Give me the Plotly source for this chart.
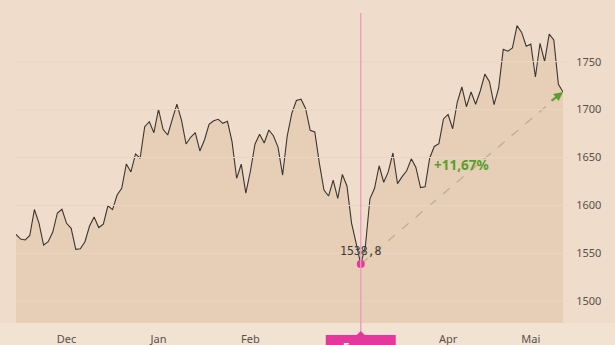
import plotly.graph_objects as go

# ---- data ----
values = [
    1569.8, 1564.9, 1563.9, 1568.6, 1595.7, 1581.6, 1558.7, 1562.1, 1572.2, 1592.1,
    1596.0, 1581.3, 1576.1, 1554.2, 1554.8, 1562.1, 1578.5, 1587.9, 1576.9, 1580.4,
    1599.6, 1595.6, 1610.9, 1617.9, 1643.2, 1634.9, 1653.7, 1649.2, 1682.2, 1687.4,
    1675.9, 1700.3, 1679.4, 1673.5, 1689.7, 1705.8, 1689.1, 1664.1, 1671.1, 1675.9,
    1656.8, 1668.3, 1684.7, 1688.4, 1689.9, 1685.7, 1687.8, 1666.5, 1628.3, 1643.0,
    1612.9, 1635.9, 1664.1, 1674.3, 1665.1, 1678.7, 1672.7, 1660.8, 1631.7, 1672.4,
    1696.1, 1709.5, 1710.8, 1701.2, 1678.4, 1676.6, 1643.9, 1616.1, 1609.8, 1626.5,
    1607.4, 1632.3, 1620.3, 1581.6, 1560.4, 1538.8, 1556.9, 1606.9, 1617.9, 1641.4,
    1624.2, 1635.2, 1654.7, 1622.7, 1630.0, 1636.2, 1648.6, 1639.6, 1618.7, 1619.5,
    1649.5, 1661.5, 1664.4, 1690.2, 1694.9, 1680.0, 1707.9, 1723.6, 1703.0, 1718.4,
    1705.6, 1719.4, 1737.0, 1729.1, 1705.1, 1722.5, 1762.9, 1760.9, 1764.3, 1787.6,
    1780.5, 1766.1, 1768.3, 1734.0, 1769.2, 1750.4, 1778.7, 1772.7, 1726.5, 1718.4,
]
month_labels = ["Dec", "Jan", "Feb", "Apr", "Mai"]
month_positions = [11, 31, 51, 94, 112]
y_ticks = [1500, 1550, 1600, 1650, 1700, 1750]
marker_date_label = "5 mar"

x = list(range(len(values)))
i_min = values.index(min(values))
v_min = values[i_min]
i_last = len(values) - 1
v_last = values[i_last]
pct = (v_last / v_min - 1) * 100

def de(num, d):
    return f"{num:.{d}f}".replace(".", ",")

BG = "#EFDCCA"
FILL = "#E7CEB7"
STRIP = "#F2E2D2"
GRID = "#EAD5C2"
TXT = "#57514c"
PINK = "#E5389C"
GREEN = "#5A9E2C"

fig = go.Figure()

fig.add_trace(go.Scatter(
    x=x, y=values, mode="lines",
    line=dict(color="#3a3632", width=1.1),
    fill="tozeroy", fillcolor=FILL, hoverinfo="skip",
))
fig.add_trace(go.Scatter(
    x=[i_min, i_last], y=[v_min, v_last], mode="lines",
    line=dict(color="#B8B38C", width=1.3, dash="dash"), hoverinfo="skip",
))
fig.add_trace(go.Scatter(
    x=[i_min], y=[v_min], mode="markers",
    marker=dict(color=PINK, size=8), hoverinfo="skip",
))

shapes = []
# lighter strip below the plot
shapes.append(dict(type="rect", xref="paper", yref="paper", x0=-0.05, x1=1.2,
                   y0=-0.2, y1=0, fillcolor=STRIP, line=dict(width=0), layer="below"))
# gridlines drawn over the fill
for t in y_ticks:
    shapes.append(dict(type="line", xref="paper", yref="y", x0=0, x1=1.008, y0=t, y1=t,
                       line=dict(color=GRID, width=1), layer="above"))
# vertical marker line
shapes.append(dict(type="line", xref="x", yref="paper", x0=i_min, x1=i_min, y0=-0.04, y1=1,
                   line=dict(color="#EC9CBD", width=1.3), layer="above"))
# date box
shapes.append(dict(type="rect", xref="x", xsizemode="pixel", xanchor=i_min, x0=-35, x1=35,
                   yref="paper", ysizemode="pixel", yanchor=0, y0=-45, y1=-12,
                   fillcolor=PINK, line=dict(width=0), layer="above"))
shapes.append(dict(type="path", xref="x", xsizemode="pixel", xanchor=i_min,
                   yref="paper", ysizemode="pixel", yanchor=0,
                   path="M-4,-12 L0,-8 L4,-12 Z",
                   fillcolor=PINK, line=dict(width=0), layer="above"))

annotations = [
    dict(x=i_min, y=v_min, xref="x", yref="y", text=de(v_min, 1), showarrow=False,
         yshift=13, font=dict(family="DejaVu Sans Mono", size=11.5, color="#3d3935")),
    dict(x=(i_min + i_last) / 2, y=(v_min + v_last) / 2, xref="x", yref="y",
         text=f"+{de(pct, 2)}%", showarrow=False, yshift=13,
         font=dict(family="Noto Sans", size=13.5, color=GREEN, weight="bold")),
    dict(x=i_last, y=v_last, xref="x", yref="y", text="", showarrow=True,
         arrowhead=2, arrowsize=0.9, arrowwidth=2, arrowcolor=GREEN, ax=-13, ay=10,
         standoff=0),
    dict(x=i_min, y=0, xref="x", yref="paper", yanchor="top", text=marker_date_label,
         showarrow=False, yshift=-14,
         font=dict(family="Noto Sans", size=12, color="white", weight="bold")),
]

fig.update_layout(
    width=615, height=345,
    margin=dict(l=16, r=52, t=13, b=22, autoexpand=False),
    paper_bgcolor=BG, plot_bgcolor=BG,
    showlegend=False,
    shapes=shapes, annotations=annotations,
    font=dict(family="Noto Sans", size=11, color=TXT),
    xaxis=dict(range=[0, i_last], tickvals=month_positions, ticktext=month_labels,
               showgrid=False, zeroline=False, showline=False, automargin=False,
               ticks="outside", ticklen=6, tickcolor="rgba(0,0,0,0)",
               tickfont=dict(size=11, color=TXT), fixedrange=True),
    yaxis=dict(range=[1477.3, 1800.8], side="right", tickvals=y_ticks,
               showgrid=False, zeroline=False, showline=False, automargin=False,
               ticks="outside", ticklen=10, tickcolor="rgba(0,0,0,0)",
               tickfont=dict(size=11, color=TXT), fixedrange=True),
)

fig.write_html("out.html")
